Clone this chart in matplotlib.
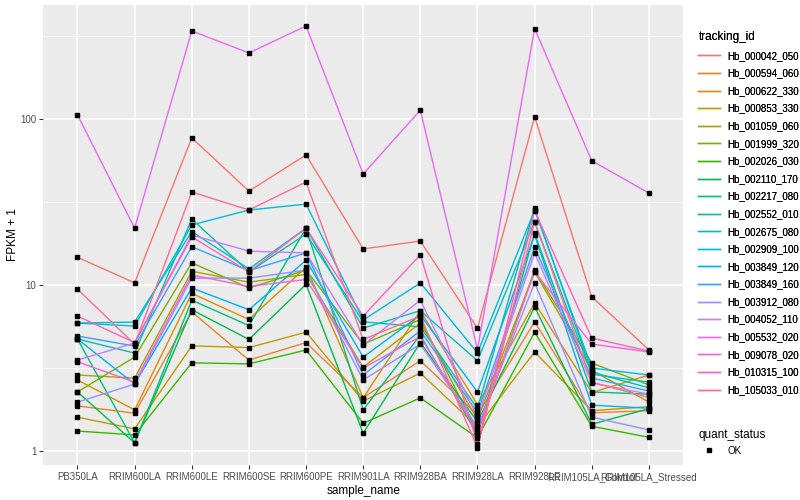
import numpy as np
import matplotlib
matplotlib.use("Agg")
import matplotlib.pyplot as plt
from matplotlib.lines import Line2D

plt.rcParams["font.family"] = ["Liberation Sans", "DejaVu Sans"]

samples = ["PB350LA", "RRIM600LA", "RRIM600LE", "RRIM600SE", "RRIM600PE",
           "RRIM901LA", "RRIM928BA", "RRIM928LA", "RRIM928LE",
           "RRIM105LA_Control", "RRIM105LA_Stressed"]

tracking_ids = ["Hb_000042_050", "Hb_000594_060", "Hb_000622_330", "Hb_000853_330",
                "Hb_001059_060", "Hb_001999_320", "Hb_002026_030", "Hb_002110_170",
                "Hb_002217_080", "Hb_002552_010", "Hb_002675_080", "Hb_002909_100",
                "Hb_003849_120", "Hb_003849_160", "Hb_003912_080", "Hb_004052_110",
                "Hb_005532_020", "Hb_009078_020", "Hb_010315_100", "Hb_105033_010"]

# ggplot hue palette for 20 groups
colors = ["#F8766D", "#EA8331", "#D89000", "#C09B00", "#A3A500", "#7CAE00", "#39B600",
          "#00BB4E", "#00BF7D", "#00C1A3", "#00BFC4", "#00BAE0", "#00B0F6", "#35A2FF",
          "#9590FF", "#C77CFF", "#E76BF3", "#FA62DB", "#FF62BC", "#FF6C91"]

# FPKM + 1, one row per tracking_id, columns follow samples
fpkm = [
    [14.7, 10.3, 77.0, 36.8, 60.7, 16.5, 18.4, 5.5, 103.0, 8.5, 4.06],
    [1.87, 1.69, 6.9, 3.53, 4.5, 2.1, 3.5, 1.65, 6.0, 1.7, 1.75],
    [2.68, 1.77, 8.9, 6.2, 12.8, 2.09, 7.0, 1.9, 7.8, 2.25, 2.87],
    [1.6, 1.36, 4.3, 4.2, 5.2, 2.0, 2.95, 1.4, 3.95, 1.75, 1.85],
    [2.87, 2.75, 12.1, 10.4, 11.6, 3.2, 5.9, 1.55, 12.0, 3.07, 1.97],
    [2.27, 3.68, 13.6, 9.6, 12.3, 4.4, 6.2, 1.3, 12.3, 3.39, 2.5],
    [1.32, 1.25, 3.4, 3.35, 4.06, 1.47, 2.09, 1.2, 5.2, 1.41, 1.21],
    [2.27, 1.12, 7.1, 4.7, 10.1, 1.28, 4.5, 1.5, 7.4, 1.45, 1.8],
    [4.73, 1.12, 8.1, 5.7, 22.0, 1.77, 5.0, 1.25, 20.5, 2.27, 2.2],
    [4.73, 3.89, 25.0, 12.0, 20.3, 6.0, 5.6, 1.8, 29.0, 2.99, 2.4],
    [5.9, 5.98, 21.0, 12.5, 22.0, 5.5, 7.0, 3.5, 24.0, 2.9, 2.6],
    [5.9, 5.66, 23.0, 28.3, 30.7, 6.15, 10.3, 3.9, 28.3, 3.16, 2.87],
    [4.73, 2.53, 9.6, 7.1, 14.1, 3.68, 6.6, 2.27, 20.0, 1.89, 1.81],
    [4.93, 4.29, 17.0, 12.2, 15.6, 2.87, 5.3, 1.7, 16.9, 2.75, 2.3],
    [1.97, 2.53, 11.0, 11.0, 12.3, 2.68, 4.4, 1.4, 10.3, 1.6, 1.34],
    [3.53, 4.47, 20.0, 16.0, 15.6, 4.35, 8.1, 1.6, 15.6, 2.57, 2.2],
    [106.0, 22.0, 339.0, 250.0, 363.0, 46.6, 113.0, 4.1, 350.0, 56.0, 35.8],
    [3.45, 2.6, 11.5, 9.8, 10.8, 3.16, 4.9, 1.3, 12.0, 4.41, 3.95],
    [6.5, 4.5, 19.5, 12.0, 22.0, 6.5, 15.2, 1.1, 28.0, 4.79, 4.0],
    [9.45, 4.4, 36.3, 28.3, 41.7, 4.7, 6.5, 1.05, 24.0, 2.6, 2.1],
]

fig = plt.figure(figsize=(8, 5), dpi=100)
ax = fig.add_axes([0.054, 0.07, 0.8, 0.92])
ax.set_facecolor("#EBEBEB")
for s in ax.spines.values():
    s.set_visible(False)

x = np.arange(len(samples))
for tid, col, vals in zip(tracking_ids, colors, fpkm):
    ax.plot(x, vals, color=col, lw=1, zorder=2)
for vals in fpkm:
    ax.plot(x, vals, ls="none", marker="s", ms=2.6, color="black", zorder=3)

ax.set_yscale("log")
ax.set_yticks([1, 10, 100])
ax.set_yticklabels(["1", "10", "100"])
ax.set_yticks([10 ** 0.5, 10 ** 1.5, 10 ** 2.5], minor=True)
ax.yaxis.set_minor_formatter(plt.NullFormatter())
ax.set_ylim(0.824, 486)
ax.set_xticks(x)
ax.set_xticklabels(samples)
ax.set_xlim(-0.6, len(samples) - 0.4)
ax.grid(True, which="major", color="white", lw=1.1, zorder=0)
ax.grid(True, which="minor", axis="y", color="white", lw=0.5, zorder=0)
ax.set_axisbelow(True)
ax.tick_params(axis="both", which="major", length=3, color="#333333", labelsize=7,
               labelcolor="#4D4D4D", pad=2)
ax.tick_params(axis="y", which="minor", length=0)
ax.set_xlabel("sample_name", fontsize=8.5, labelpad=2)
ax.set_ylabel("FPKM + 1", fontsize=8.5, labelpad=1)

handles = [Line2D([], [], color=c, lw=1) for c in colors]
leg1 = fig.legend(handles, tracking_ids, loc="upper left", bbox_to_anchor=(0.862, 0.955),
                  title="tracking_id", frameon=False, fontsize=7, title_fontsize=8.5,
                  handlelength=2.2, labelspacing=0.78, alignment="left")
fig.add_artist(leg1)
leg2 = fig.legend([Line2D([], [], ls="none", marker="s", ms=3, color="black")], ["OK"],
                  loc="upper left", bbox_to_anchor=(0.862, 0.16), title="quant_status",
                  frameon=False, fontsize=7, title_fontsize=8.5, handlelength=2.2,
                  alignment="left")

fig.savefig("out.png", dpi=100)
